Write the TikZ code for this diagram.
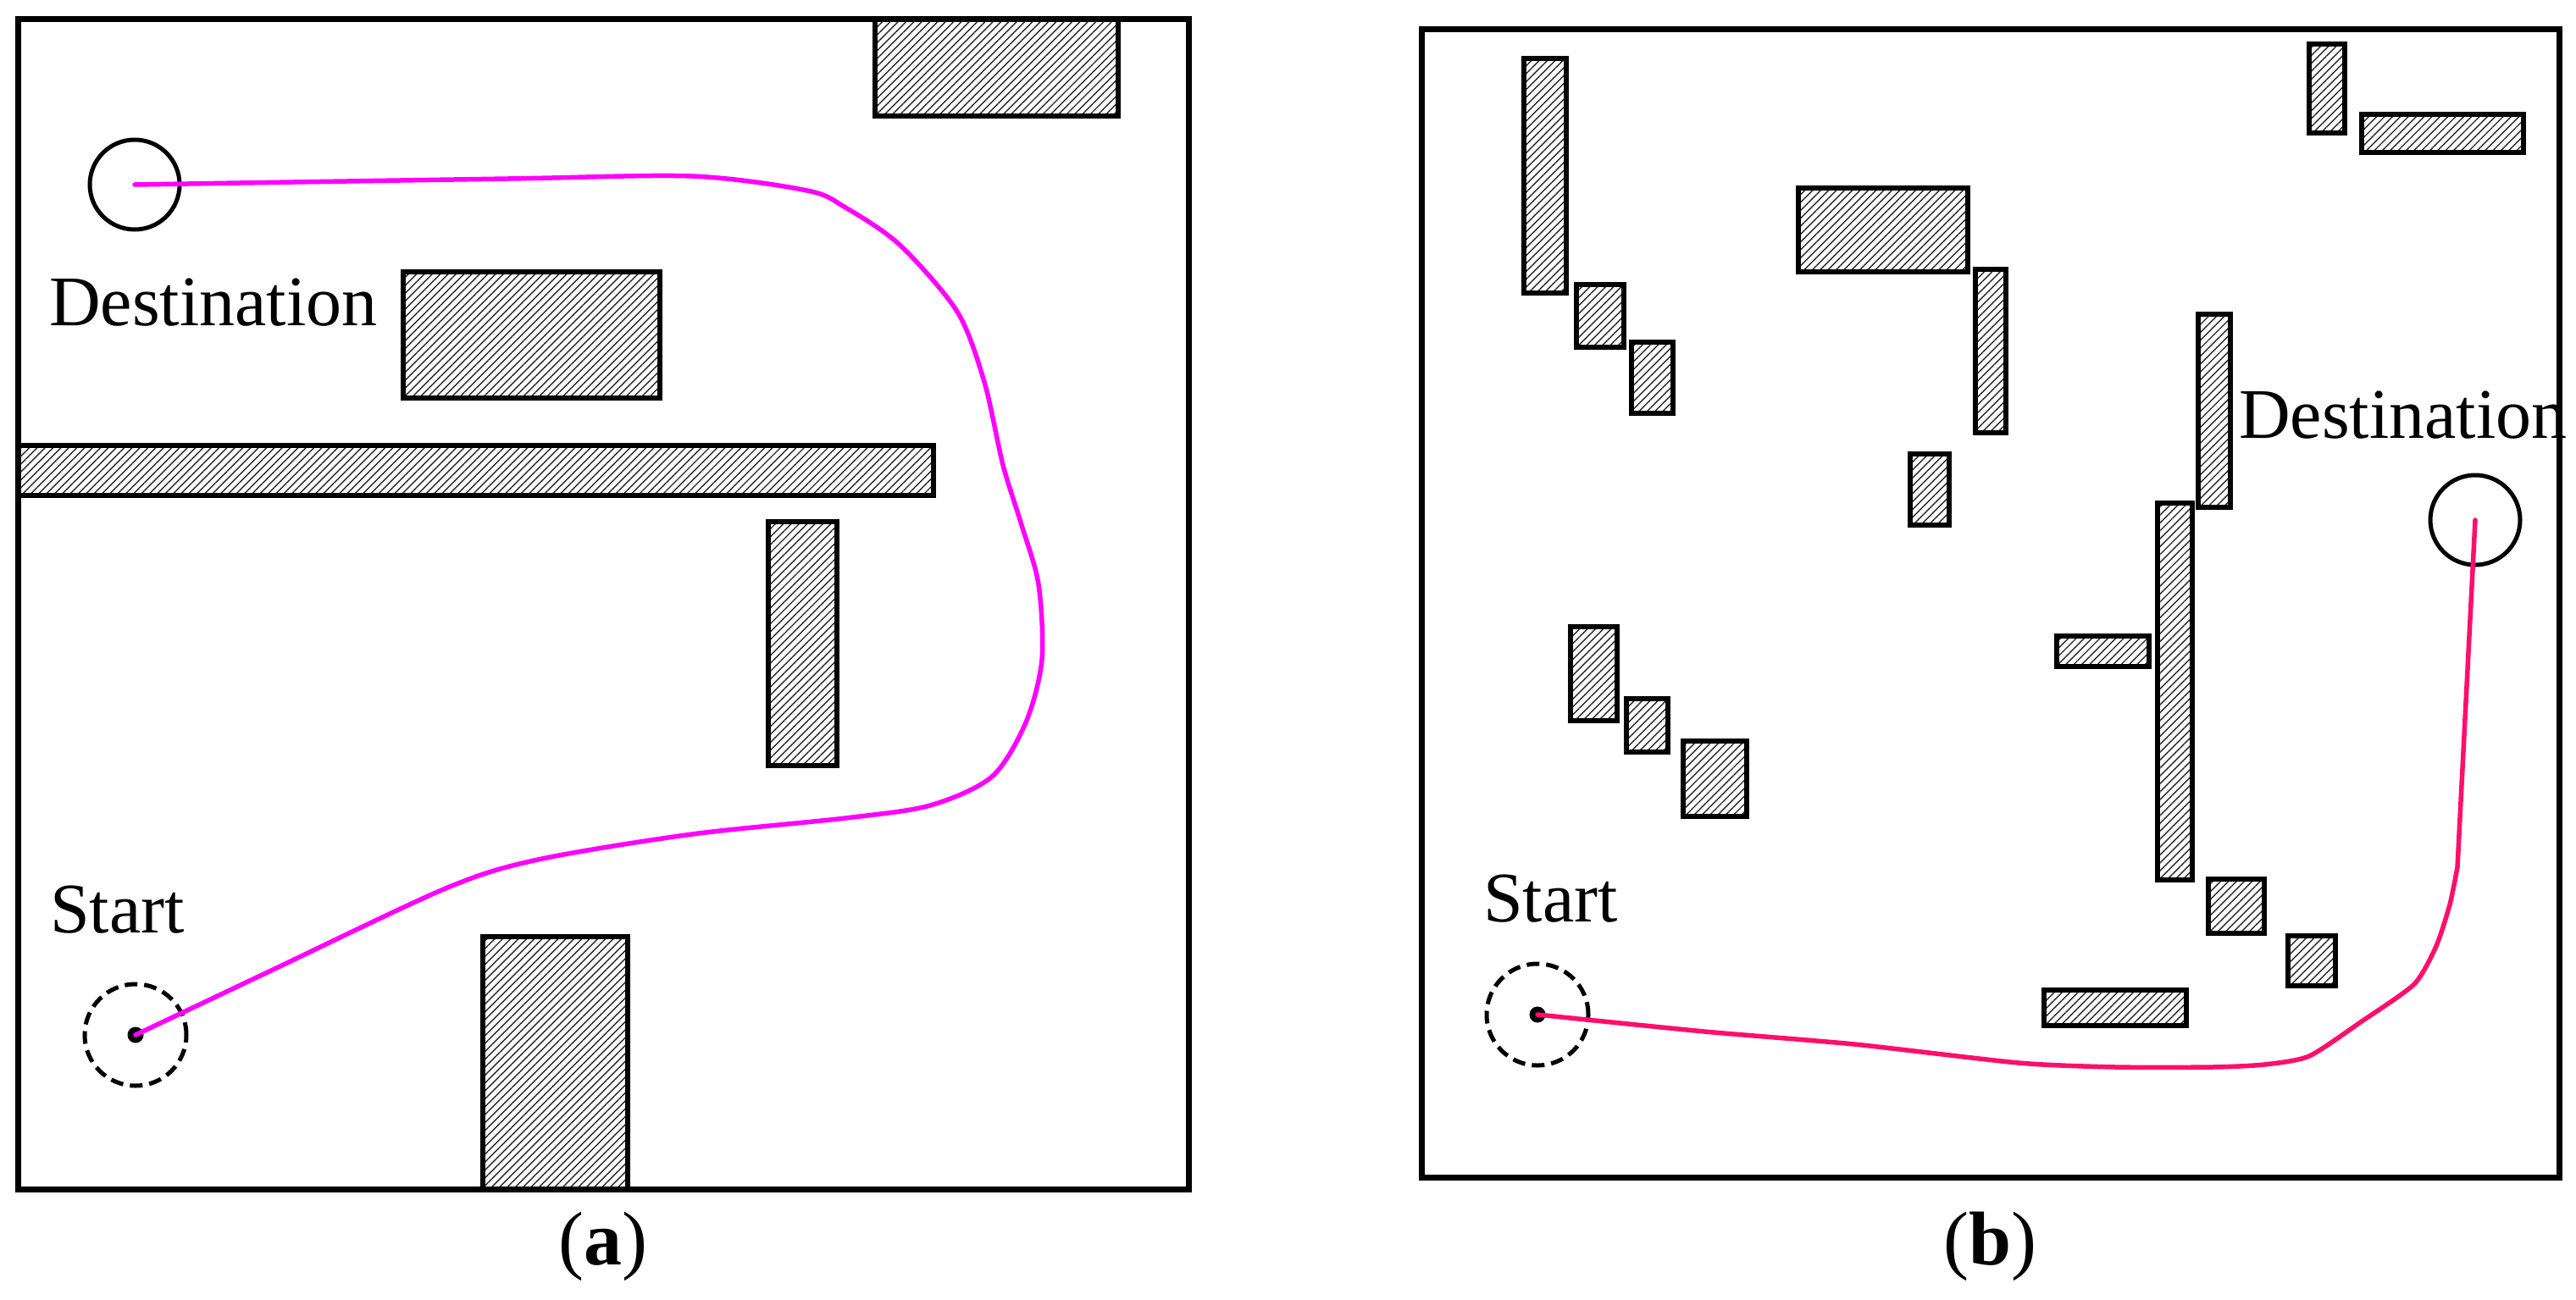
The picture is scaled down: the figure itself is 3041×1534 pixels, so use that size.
\documentclass[tikz,border=0pt]{standalone}
\usepackage{fontspec}
\setmainfont{Liberation Serif}
\usetikzlibrary{patterns.meta}
\definecolor{pathmag}{HTML}{FF00FF}
\definecolor{pathred}{HTML}{FF0F6A}
\tikzset{
  frame/.style={draw=black, line width=7pt},
  obst/.style={draw=black, line width=6pt, pattern={Lines[angle=45, distance=6.6pt, line width=1.4pt]}, pattern color=black!85},
  goal/.style={circle, draw=black, line width=5pt, minimum size=106pt, inner sep=0pt},
  origin/.style={circle, draw=black, line width=5pt, dash pattern=on 15pt off 8pt, minimum size=120pt, inner sep=0pt},
  dot/.style={circle, fill=black, minimum size=19pt, inner sep=0pt},
  lbl/.style={anchor=base west, inner sep=0pt, font=\fontsize{84}{98}\selectfont},
  captxt/.style={anchor=base, inner sep=0pt, font=\fontsize{90}{100}\selectfont},
  routea/.style={draw=pathmag, line width=5.5pt, line join=round, line cap=round},
  routeb/.style={draw=pathred, line width=5.5pt, line join=round, line cap=round}
}
\begin{document}
\begin{tikzpicture}[x=1pt, y=-1pt]
\useasboundingbox (0,0) rectangle (3041,1534);
% ---------- panel (a) ----------
\draw[frame] (21,22) rectangle (1403,1404);
\draw[obst] (1033,22) rectangle (1320,137);
\draw[obst] (476,321) rectangle (779,470);
\draw[obst] (21,526) rectangle (1102,585);
\draw[obst] (907,616) rectangle (988,904);
\draw[obst] (570,1106) rectangle (741,1404);
\node[goal] (da) at (159,218) {};
\node[lbl] (dla) at (58,384) {Destination};
\node[lbl] (sla) at (59,1101) {Start};
\node[origin] (sa) at (160,1222) {};
\node[dot] (sda) at (160,1222) {};
\draw[routea] plot[smooth, tension=0.5] coordinates {(sa.center) (318,1147) (526,1049) (635,1015) (817,985) (998,966) (1098,951) (1171,917) (1211,853) (1230,779) (1226,690) (1206,620) (1184,549) (1162,451) (1130,368) (1062,289) (998,245) (953,225) (817,208) (600,211) (da.center)};
\node[captxt] (capa) at (712,1493) {(\textbf{a})};
% ---------- panel (b) ----------
\draw[frame] (1678,34) rectangle (3021,1390);
\draw[obst] (1799,69) rectangle (1849,346);
\draw[obst] (1861,336) rectangle (1917,410);
\draw[obst] (1926,404) rectangle (1975,488);
\draw[obst] (2123,222) rectangle (2323,321);
\draw[obst] (2332,318) rectangle (2368,511);
\draw[obst] (2255,536) rectangle (2301,620);
\draw[obst] (2726,52) rectangle (2768,157);
\draw[obst] (2788,135) rectangle (2979,180);
\draw[obst] (2595,371) rectangle (2633,599);
\draw[obst] (2547,594) rectangle (2588,1039);
\draw[obst] (2428,751) rectangle (2537,787);
\draw[obst] (1854,740) rectangle (1909,851);
\draw[obst] (1920,825) rectangle (1969,888);
\draw[obst] (1987,875) rectangle (2062,964);
\draw[obst] (2607,1038) rectangle (2673,1102);
\draw[obst] (2701,1105) rectangle (2757,1164);
\draw[obst] (2413,1169) rectangle (2581,1211);
\node[lbl] (dlb) at (2643,517) {Destination};
\node[goal] (db) at (2922,614) {};
\node[lbl] (slb) at (1751,1088) {Start};
\node[origin] (sb) at (1815,1198) {};
\node[dot] (sdb) at (1815,1198) {};
\coordinate (bk) at (2901,1024);
\draw[routeb] plot[smooth, tension=0.4] coordinates {(sb.center) (2012,1218) (2189,1233) (2383,1255) (2497,1260) (2612,1260) (2673,1257) (2726,1247) (2788,1206) (2850,1162) (2876,1117) (2892,1068) (bk)} -- (db.center);
\node[captxt] (capb) at (2349,1493) {(\textbf{b})};
\end{tikzpicture}
\end{document}
